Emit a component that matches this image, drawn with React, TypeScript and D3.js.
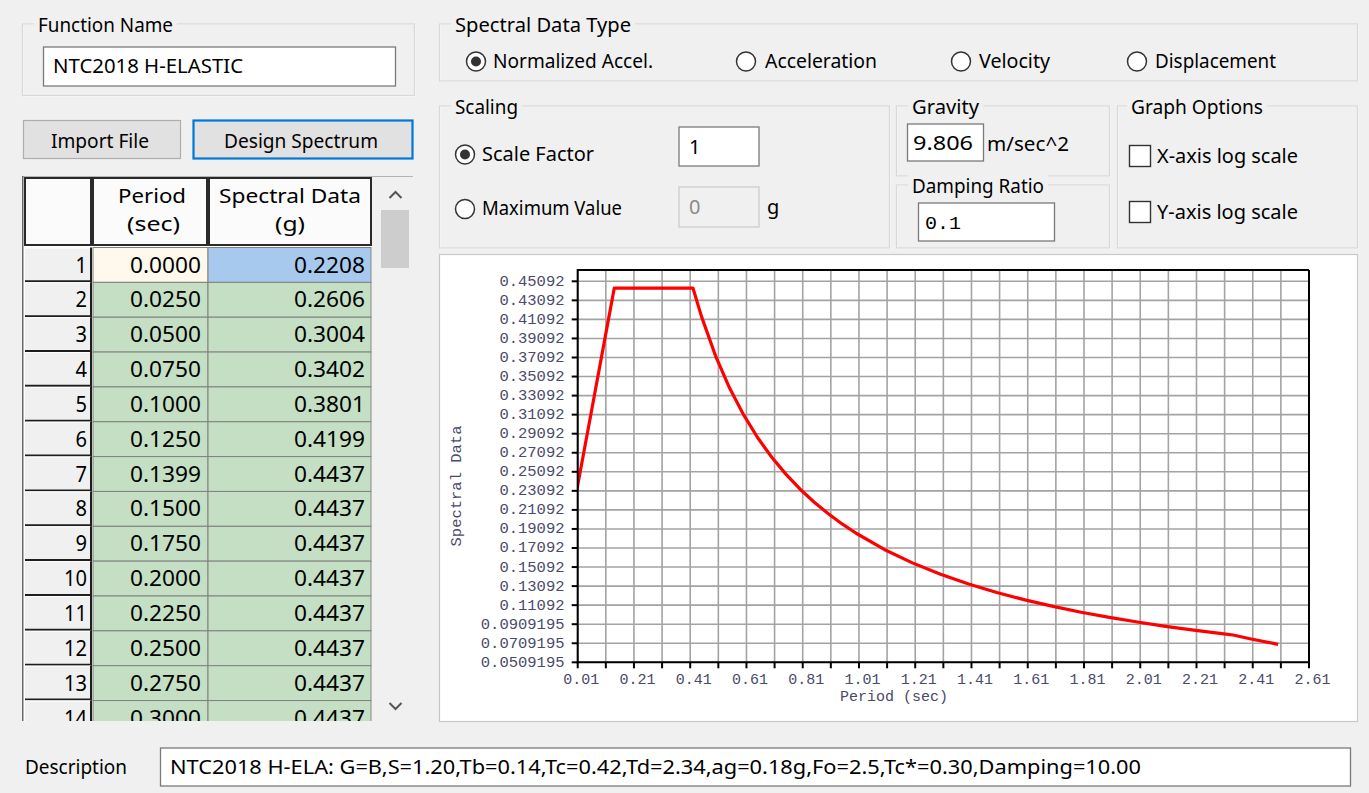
import React from 'react';
import * as d3 from 'd3';

// ---------- data ----------
const tableRowNo = ['1', '2', '3', '4', '5', '6', '7', '8', '9', '10', '11', '12', '13', '14'];
const tablePeriod = ['0.0000', '0.0250', '0.0500', '0.0750', '0.1000', '0.1250', '0.1399', '0.1500', '0.1750', '0.2000', '0.2250', '0.2500', '0.2750', '0.3000'];
const tableSpectral = ['0.2208', '0.2606', '0.3004', '0.3402', '0.3801', '0.4199', '0.4437', '0.4437', '0.4437', '0.4437', '0.4437', '0.4437', '0.4437', '0.4437'];

const curvePeriod = [0, 0.025, 0.05, 0.075, 0.1, 0.125, 0.1399, 0.15, 0.175, 0.2, 0.225, 0.25, 0.275, 0.3, 0.325, 0.35, 0.375, 0.4, 0.42,
  0.45, 0.5, 0.55, 0.6, 0.65, 0.7, 0.75, 0.8, 0.85, 0.9, 0.95, 1.0, 1.1, 1.2, 1.3, 1.4, 1.5, 1.6, 1.7, 1.8, 1.9, 2.0, 2.1, 2.2, 2.3, 2.34, 2.4, 2.5];
const curveSpectral = [0.2208, 0.2606, 0.3004, 0.3402, 0.3801, 0.4199, 0.4437, 0.4437, 0.4437, 0.4437, 0.4437, 0.4437, 0.4437, 0.4437, 0.4437, 0.4437, 0.4437, 0.4437, 0.4437,
  0.4141, 0.3727, 0.3388, 0.3106, 0.2867, 0.2662, 0.2485, 0.2329, 0.2192, 0.2071, 0.1962, 0.1864, 0.1694, 0.1553, 0.1433, 0.1331, 0.1242, 0.1165, 0.1096, 0.1035, 0.0981, 0.0932, 0.0887, 0.0847, 0.0810, 0.0796, 0.0757, 0.0698];

const xTickLabels = ['0.01', '0.21', '0.41', '0.61', '0.81', '1.01', '1.21', '1.41', '1.61', '1.81', '2.01', '2.21', '2.41', '2.61'];
const xGridValues = [0.01, 0.11, 0.21, 0.31, 0.41, 0.51, 0.61, 0.71, 0.81, 0.91, 1.01, 1.11, 1.21, 1.31, 1.41, 1.51, 1.61, 1.71, 1.81, 1.91, 2.01, 2.11, 2.21, 2.31, 2.41, 2.51, 2.61];
const yTickLabels = ['0.0509195', '0.0709195', '0.0909195', '0.11092', '0.13092', '0.15092', '0.17092', '0.19092', '0.21092', '0.23092', '0.25092',
  '0.27092', '0.29092', '0.31092', '0.33092', '0.35092', '0.37092', '0.39092', '0.41092', '0.43092', '0.45092'];

const radioLabels = ['Normalized Accel.', 'Acceleration', 'Velocity', 'Displacement'];
const descriptionText = 'NTC2018 H-ELA: G=B,S=1.20,Tb=0.14,Tc=0.42,Td=2.34,ag=0.18g,Fo=2.5,Tc*=0.30,Damping=10.00';

// ---------- styling ----------
const UI = '"Noto Sans", "Open Sans", sans-serif';
const MONO = '"Liberation Mono", "DejaVu Sans Mono", monospace';
const BG = '#f0f0f0';

const T = ({ x, y, w, size = 20, anchor = 'start', fill = '#000', family = UI, children }: any) => (
  <text x={x} y={y} fontSize={size} fontFamily={family} fill={fill} textAnchor={anchor}
    textLength={w} lengthAdjust="spacingAndGlyphs">{children}</text>
);

const GroupBox = ({ x, y, w, h, title, tx, tw }: any) => (
  <g>
    <rect x={x + 0.5} y={y + 0.5} width={w} height={h} fill="none" stroke="#ffffff" strokeWidth={1} />
    <rect x={x} y={y} width={w} height={h} fill="none" stroke="#d8d8d8" strokeWidth={1.2} />
    <rect x={tx - 4} y={y - 10} width={tw + 8} height={20} fill={BG} />
    <T x={tx} y={y + 8} w={tw}>{title}</T>
  </g>
);

const Radio = ({ cx, cy, on }: any) => (
  <g>
    <circle cx={cx} cy={cy} r={9.5} fill="#fff" stroke="#333" strokeWidth={1.5} />
    {on && <circle cx={cx} cy={cy} r={5} fill="#333" />}
  </g>
);

const TextBox = ({ x, y, w, h, disabled }: any) => (
  <rect x={x} y={y} width={w} height={h} fill={disabled ? '#f0f0f0' : '#fff'} stroke={disabled ? '#cccccc' : '#7a7a7a'} strokeWidth={1.3} />
);

// ---------- chart geometry ----------
const PL = 577.7, PR = 1309, PT = 270, PB = 662.3;

export default function App() {
  const x = d3.scaleLinear().domain([0.01, 2.61]).range([PL, PR]);
  const y = d3.scaleLinear().domain([0.0509195, 0.0509195 + 0.02 * (PB - PT) / 19.05]).range([PB, PT]);
  const line = d3.line<number>().x((_, i) => x(curvePeriod[i])).y((d) => y(d));
  const rowTop = (i: number) => 247.5 + i * 34.85;

  const radioX = [476, 746, 961, 1137];
  const radioTextX = [493, 765, 979, 1155];
  const radioTextW = [160, 112, 71, 121];

  return (
    <svg width={1369} height={793} style={{ position: 'absolute', left: 0, top: 0 }}>
      <defs>
        <clipPath id="plotClip"><rect x={PL} y={PT} width={PR - PL} height={PB - PT} /></clipPath>
        <clipPath id="tableClip"><rect x={22} y={176} width={391} height={545} /></clipPath>
      </defs>
      <rect x={0} y={0} width={1369} height={793} fill={BG} />

      {/* Function name */}
      <GroupBox x={22.5} y={24} w={392} h={71.5} title="Function Name" tx={38} tw={135} />
      <TextBox x={43.5} y={47} w={352} h={39} />
      <T x={53} y={73} w={190}>NTC2018 H-ELASTIC</T>

      {/* Buttons */}
      <rect x={23.5} y={120.5} width={157} height={38} fill="#e1e1e1" stroke="#adadad" strokeWidth={1.2} />
      <T x={51} y={147.5} w={98}>Import File</T>
      <rect x={193.5} y={120.5} width={219} height={38} fill="#e1e1e1" stroke="#0078d7" strokeWidth={2.2} />
      <T x={224} y={147.5} w={154}>Design Spectrum</T>

      {/* Table */}
      <g clipPath="url(#tableClip)">
        <rect x={22} y={176} width={391} height={546} fill="#ffffff" />
        {/* header */}
        {[[25, 66], [93, 114], [209, 162]].map(([hx, hw], i) => (
          <rect key={i} x={hx} y={178} width={hw} height={67} fill="#fbfbfb" stroke="#2a2a2a" strokeWidth={2} />
        ))}
        <T x={118} y={203} w={68}>Period</T>
        <T x={127} y={231} w={53}>(sec)</T>
        <T x={219} y={203} w={142}>Spectral Data</T>
        <T x={275} y={231} w={30}>(g)</T>
        {/* rows */}
        {tableRowNo.map((n, i) => {
          const top = rowTop(i);
          return (
            <g key={n}>
              <rect x={25} y={top} width={66} height={34.85} fill="#f0f0f0" />
              <line x1={25} y1={top + 0.5} x2={91} y2={top + 0.5} stroke="#ffffff" strokeWidth={1} />
              <line x1={25} y1={top + 33.8} x2={92} y2={top + 33.8} stroke="#1e1e1e" strokeWidth={2} />
              <line x1={91} y1={top} x2={91} y2={top + 34.85} stroke="#1e1e1e" strokeWidth={2} />
              <rect x={93} y={top} width={115} height={34.85} fill={i === 0 ? '#fff8ec' : '#c4dfc3'} stroke="#808080" strokeWidth={1} />
              <rect x={208} y={top} width={163} height={34.85} fill={i === 0 ? '#a8c9ee' : '#c4dfc3'} stroke="#808080" strokeWidth={1} />
              <T x={87} y={top + 25} size={21} anchor="end" w={n.length * 11.5}>{n}</T>
              <T x={201} y={top + 25} size={21} anchor="end" w={71}>{tablePeriod[i]}</T>
              <T x={365} y={top + 25} size={21} anchor="end" w={71}>{tableSpectral[i]}</T>
            </g>
          );
        })}
        {/* scrollbar */}
        <rect x={372} y={177} width={41} height={545} fill="#f0f0f0" />
        <rect x={381} y={210} width={28} height={58} fill="#cdcdcd" />
        <path d="M389.5,198 L395.5,192 L401.5,198" fill="none" stroke="#555" strokeWidth={2} />
        <path d="M389.5,703 L395.5,709 L401.5,703" fill="none" stroke="#555" strokeWidth={2} />
        <line x1={22.5} y1={176} x2={22.5} y2={722} stroke="#6a6a6a" strokeWidth={2} />
        <line x1={22} y1={175.5} x2={413} y2={175.5} stroke="#6a6a6a" strokeWidth={2} />
      </g>

      {/* Spectral data type */}
      <GroupBox x={439.5} y={24} w={918} h={57} title="Spectral Data Type" tx={455} tw={176} />
      {radioLabels.map((lab, i) => (
        <g key={lab}>
          <Radio cx={radioX[i]} cy={61.5} on={i === 0} />
          <T x={radioTextX[i]} y={68} w={radioTextW[i]}>{lab}</T>
        </g>
      ))}

      {/* Scaling */}
      <GroupBox x={439.5} y={106} w={450} h={142} title="Scaling" tx={455} tw={63} />
      <Radio cx={465} cy={154.5} on />
      <T x={482} y={161} w={112}>Scale Factor</T>
      <TextBox x={679} y={127} w={80} h={39} />
      <T x={689} y={153.5}>1</T>
      <Radio cx={465} cy={209} on={false} />
      <T x={482} y={215} w={140}>Maximum Value</T>
      <TextBox x={679} y={187} w={80} h={40} disabled />
      <T x={689} y={214} fill="#8a8a8a">0</T>
      <T x={767} y={214}>g</T>

      {/* Gravity */}
      <GroupBox x={896.5} y={106} w={213} h={70} title="Gravity" tx={912} tw={67} />
      <TextBox x={907.5} y={124} w={76} h={37} />
      <T x={913} y={150} w={60}>9.806</T>
      <T x={987} y={151} w={82}>m/sec^2</T>

      {/* Damping */}
      <GroupBox x={896.5} y={185} w={213} h={63} title="Damping Ratio" tx={912} tw={132} />
      <TextBox x={918.5} y={203} w={136} h={38} />
      <T x={925} y={229} size={18} family={MONO} w={36}>0.1</T>

      {/* Graph options */}
      <GroupBox x={1117.5} y={106} w={240} h={142} title="Graph Options" tx={1131} tw={132} />
      <rect x={1129.5} y={145.5} width={21} height={21} fill="#fff" stroke="#333" strokeWidth={1.4} />
      <T x={1157} y={162.5} w={141}>X-axis log scale</T>
      <rect x={1129.5} y={201.5} width={21} height={21} fill="#fff" stroke="#333" strokeWidth={1.4} />
      <T x={1157} y={218.5} w={141}>Y-axis log scale</T>

      {/* Chart panel */}
      <rect x={439.5} y={254.5} width={918} height={467} fill="#ffffff" stroke="#c8c8c8" strokeWidth={1.2} />
      {/* grid */}
      <g>
        {xGridValues.map((v) => (
          <line key={'gx' + v} x1={x(v)} y1={PT} x2={x(v)} y2={PB} stroke="#a3a3a3" strokeWidth={1.6} />
        ))}
        {yTickLabels.map((l) => (
          <line key={'gy' + l} x1={PL} y1={y(+l)} x2={PR} y2={y(+l)} stroke="#a3a3a3" strokeWidth={1.6} />
        ))}
      </g>
      {/* curve */}
      <path d={line(curveSpectral) || ''} fill="none" stroke="#ff0000" strokeWidth={3.2} strokeLinejoin="round" clipPath="url(#plotClip)" />
      {/* frame & axes */}
      <line x1={PL} y1={PT} x2={PR} y2={PT} stroke="#000" strokeWidth={2} />
      <line x1={PR} y1={PT} x2={PR} y2={PB} stroke="#000" strokeWidth={2} />
      <line x1={PL} y1={PT - 1} x2={PL} y2={PB + 1} stroke="#000" strokeWidth={2} />
      <line x1={PL - 1} y1={PB} x2={PR + 1} y2={PB} stroke="#000" strokeWidth={2} />
      {yTickLabels.map((l) => (
        <g key={'ty' + l}>
          <line x1={PL - 6} y1={y(+l)} x2={PL} y2={y(+l)} stroke="#000" strokeWidth={2} />
          <text x={564.5} y={y(+l) + 4.5} fontSize={15.5} fontFamily={MONO} fill="#4a4a6a" textAnchor="end">{l}</text>
        </g>
      ))}
      {xGridValues.map((v) => (
        <line key={'tx' + v} x1={x(v)} y1={PB} x2={x(v)} y2={PB + 6} stroke="#000" strokeWidth={2} />
      ))}
      {xTickLabels.map((l) => (
        <text key={'lx' + l} x={x(+l) + 3.5} y={683.5} fontSize={15} fontFamily={MONO} fill="#4a4a6a" textAnchor="middle">{l}</text>
      ))}
      <text x={894} y={700.5} fontSize={15} fontFamily={MONO} fill="#4a4a6a" textAnchor="middle">Period (sec)</text>
      <text transform="translate(460.5,486) rotate(-90)" fontSize={15.5} fontFamily={MONO} fill="#4a4a6a" textAnchor="middle">Spectral Data</text>

      {/* Description */}
      <T x={25} y={774} w={102}>Description</T>
      <TextBox x={160.5} y={748} w={1190} h={38} />
      <T x={170} y={774} w={971}>{descriptionText}</T>
    </svg>
  );
}
